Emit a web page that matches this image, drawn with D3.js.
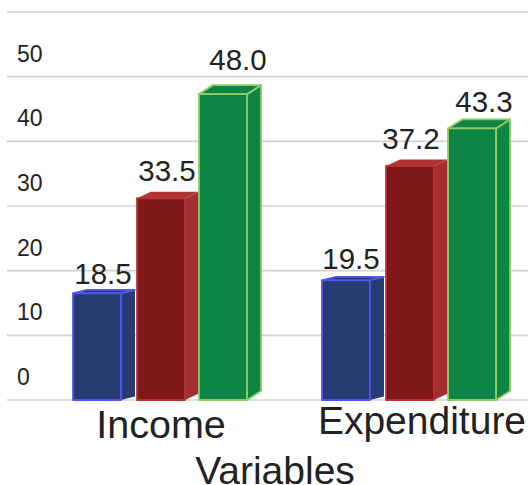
<!DOCTYPE html>
<html><head><meta charset="utf-8">
<script src="https://cdn.jsdelivr.net/npm/d3@7"></script>
<style>html,body{margin:0;padding:0;background:#fff}svg{display:block}text{font-family:"Liberation Sans",Arial,sans-serif;fill:#222}</style>
</head><body><svg id="c" width="528" height="485"></svg>
<script>
const categories = ["Income", "Expenditure"];
const seriesNames = ["A", "B", "C"];
// Printed value labels
const incomeLabels = ["18.5", "33.5", "48.0"];
const expenditureLabels = ["19.5", "37.2", "43.3"];
// Front-face heights as read against the gridlines
const incomeHeights = [16.5, 31.2, 47.3];
const expenditureHeights = [18.5, 36.2, 42.0];
const tickValues = [0, 10, 20, 30, 40, 50, 60];
const tickLabels = ["0", "10", "20", "30", "40", "50"];
const xTitle = "Variables";
const frontColors = ["#283a72", "#7f1818", "#0d8544"];
const sideColors = ["#283a72", "#a52f30", "#0d8544"];
const topColors = ["#283a72", "#b23233", "#0d8544"];
const strokeColors = ["#5257f2", "#bb3434", "#8fca62"];

const svg = d3.select("#c");
const y = d3.scaleLinear().domain([0, 60]).range([400, 12]);
const x0 = d3.scaleBand().domain(categories).range([73, 571]);
const x1 = d3.scaleBand().domain(seriesNames).range([0, 189]);
const barW = 48, dx = 14;
const depthY = [3.5, 6.5, 9];
const outerStroke = [false, false, true];

svg.append("g").selectAll("line").data(tickValues).join("line")
  .attr("x1", 7).attr("x2", 528).attr("y1", d => y(d)).attr("y2", d => y(d))
  .attr("stroke", "#d2d2d2").attr("stroke-width", 1.6);

svg.append("g").selectAll("text").data(tickLabels).join("text")
  .attr("x", 17).attr("y", d => y(+d) - 15)
  .attr("font-size", 23).text(d => d);

const rows = [
  {cat: categories[0], heights: incomeHeights, labels: incomeLabels, lx: [103, 167, 238], off: [9, 17, 24]},
  {cat: categories[1], heights: expenditureHeights, labels: expenditureLabels, lx: [351, 411, 484], off: [11, 17, 16]}
];
rows.forEach(r => {
  seriesNames.forEach((s, i) => {
    const xl = x0(r.cat) + x1(s) + (i === 1 ? 1 : 0), xr = xl + barW;
    const yt = y(r.heights[i]), yb = y(0), dy = depthY[i];
    const g = svg.append("g").attr("stroke-width", 1.8).attr("stroke-linejoin", "round");
    g.append("path").attr("fill", sideColors[i])
      .attr("stroke", outerStroke[i] ? strokeColors[i] : "none")
      .attr("d", `M${xr},${yt}L${xr + dx},${yt - dy}L${xr + dx},${yb - dy}L${xr},${yb}Z`);
    g.append("path").attr("fill", topColors[i])
      .attr("stroke", i === 1 ? "none" : strokeColors[i])
      .attr("d", `M${xl},${yt}L${xl + dx},${yt - dy}L${xr + dx},${yt - dy}L${xr},${yt}Z`);
    g.append("rect").attr("x", xl).attr("y", yt).attr("width", barW).attr("height", yb - yt)
      .attr("fill", frontColors[i]).attr("stroke", strokeColors[i]);
    svg.append("text").attr("x", r.lx[i]).attr("y", yt - r.off[i])
      .attr("text-anchor", "middle").attr("font-size", 29.5).text(r.labels[i]);
  });
});

svg.append("text").attr("x", 161).attr("y", 438).attr("text-anchor", "middle").attr("font-size", 39.5).text(categories[0]);
svg.append("text").attr("x", 422).attr("y", 434).attr("text-anchor", "middle").attr("font-size", 39).text(categories[1]);
svg.append("text").attr("x", 275).attr("y", 484).attr("text-anchor", "middle").attr("font-size", 39).text(xTitle);
</script></body></html>
